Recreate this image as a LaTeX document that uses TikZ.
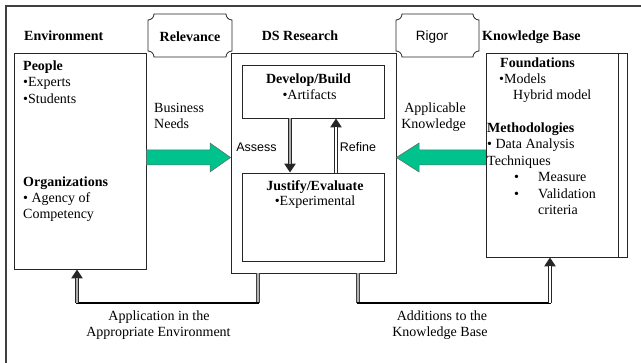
\documentclass[tikz,border=0pt]{standalone}
\usepackage{fontspec}
\setmainfont{Liberation Serif}
\newfontfamily\arialf{Liberation Sans}
\usetikzlibrary{arrows.meta}
\definecolor{arrowgreen}{RGB}{0,194,140}
\tikzset{
  box/.style={draw=black!85, line width=0.8pt, fill=white, inner sep=0pt},
  txt/.style={inner sep=0pt, text height=11pt, text depth=2pt, font=\fontsize{14}{16}\selectfont},
  btxt/.style={txt, font=\fontsize{14}{16}\selectfont\bfseries},
  stxt/.style={inner sep=0pt, text height=10pt, text depth=2pt, font=\fontsize{12.5}{15}\selectfont\arialf},
  dblline/.style={draw=black!75, line width=3.4pt, postaction={draw=#1, line width=1.6pt}},
  dblarrow/.style={draw=black!85, line width=4pt, -{Triangle[width=11pt,length=9pt]},
    postaction={draw=#1, line width=2pt, -, shorten >=9pt}},
  hline/.style={draw=black, line width=2pt},
  plaque/.style={draw=black!85, line width=0.8pt, fill=white},
  garrow/.style={draw=black!60, line width=0.5pt, fill=arrowgreen}
}
\begin{document}
\begin{tikzpicture}[x=1pt,y=1pt]
\useasboundingbox (0,0) rectangle (641,-363);
% outer frame (cropped)
\draw[draw=black!75, line width=1.3pt] (641,-6) -- (6,-6) -- (6,-363);

% headings
\node[btxt, anchor=west] (envh) at (24,-36) {Environment};
\node[btxt] (dsh) at (300,-36) {DS Research};
\node[btxt, anchor=west] (kbh) at (482,-36) {Knowledge Base};

% plaques
\draw[plaque] (154,-14) -- (226,-14) .. controls (226,-17.3) and (228.7,-20) .. (232,-20)
  -- (232,-51) .. controls (228.7,-51) and (226,-53.7) .. (226,-57)
  -- (154,-57) .. controls (154,-53.7) and (151.3,-51) .. (148,-51)
  -- (148,-20) .. controls (151.3,-20) and (154,-17.3) .. (154,-14) -- cycle;
\node[btxt] (relev) at (190,-37) {Relevance};
\draw[plaque] (402,-14) -- (473,-14) .. controls (473,-17.3) and (475.7,-20) .. (479,-20)
  -- (479,-51) .. controls (475.7,-51) and (473,-53.7) .. (473,-57)
  -- (402,-57) .. controls (402,-53.7) and (399.3,-51) .. (396,-51)
  -- (396,-20) .. controls (399.3,-20) and (402,-17.3) .. (402,-14) -- cycle;
\node[stxt, font=\fontsize{13.5}{16}\selectfont\arialf] (rigor) at (432,-37) {Rigor};

% boxes
\node[box, minimum width=132pt, minimum height=216pt] (env) at (80,-161) {};
\node[box, minimum width=165pt, minimum height=220pt] (ds) at (313.5,-163) {};
\node[box, minimum width=142pt, minimum height=53pt] (dev) at (313,-91.5) {};
\node[box, minimum width=142pt, minimum height=88pt] (jus) at (313,-217) {};
\node[box, minimum width=141pt, minimum height=204pt] (kb) at (556.5,-155) {};
\draw[draw=black!85, line width=0.8pt] (kb.north east) ++(-9,0) coordinate (kbi) -- (kbi |- kb.south);

% environment texts
\node[btxt, anchor=west] (people) at (23,-66) {People};
\node[txt, anchor=west] (experts) at (23,-82.5) {\textbullet Experts};
\node[txt, anchor=west] (students) at (23,-99) {\textbullet Students};
\node[btxt, anchor=west] (orgs) at (23,-182) {Organizations};
\node[txt, anchor=west] (agency) at (23,-198) {\textbullet{} Agency of};
\node[txt, anchor=west] (compet) at (23,-214) {Competency};

% DS texts
\node[btxt] (devt) at (308.5,-79) {Develop/Build};
\node[txt] (artif) at (309.5,-95) {\textbullet Artifacts};
\node[btxt] (just) at (315,-186) {Justify/Evaluate};
\node[txt] (exper) at (315,-201) {\textbullet Experimental};
\node[stxt] (assess) at (256.5,-148) {Assess};
\node[stxt] (refine) at (358,-148) {Refine};

% KB texts
\node[btxt, anchor=west] (found) at (500,-63) {Foundations};
\node[txt, anchor=west] (models) at (499,-79) {\textbullet Models};
\node[txt, anchor=west] (hybrid) at (513,-95) {Hybrid model};
\node[btxt, anchor=west] (meth) at (487,-128) {Methodologies};
\node[txt, anchor=west] (data) at (487,-144) {\textbullet{} Data Analysis};
\node[txt, anchor=west] (tech) at (487,-161) {Techniques};
\node[txt, anchor=west] (b1) at (514,-177) {\textbullet};
\node[txt, anchor=west] (measure) at (538,-177) {Measure};
\node[txt, anchor=west] (b2) at (514,-194) {\textbullet};
\node[txt, anchor=west] (valid) at (538,-194) {Validation};
\node[txt, anchor=west] (crit) at (538,-210) {criteria};

% side labels
\node[txt, anchor=west] (bus1) at (154,-108) {Business};
\node[txt, anchor=west] (bus2) at (154,-124) {Needs};
\node[txt, anchor=east] (app1) at (466,-108) {Applicable};
\node[txt, anchor=east] (app2) at (466,-124) {Knowledge};

% green block arrows
\draw[garrow] (env.east |- 0,-150) -- (210,-150) -- (210,-143) -- (ds.west |- 0,-157.5)
  -- (210,-172) -- (210,-165) -- (env.east |- 0,-165) -- cycle;
\draw[garrow] (kb.west |- 0,-150) -- (419,-150) -- (419,-143) -- (ds.east |- 0,-157.5)
  -- (419,-172) -- (419,-165) -- (kb.west |- 0,-165) -- cycle;

% assess / refine
\draw[dblarrow=gray!65] ([xshift=-23pt]dev.south) -- ([xshift=-23pt]jus.north);
\draw[dblarrow=white] ([xshift=23pt]jus.north) -- ([xshift=23pt]dev.south);

% bottom connectors
\coordinate (l1) at ([xshift=-55.5pt]ds.south |- 0,-303);
\coordinate (l2) at ([xshift=-3pt]env.south |- 0,-303);
\draw[dblline=gray!60] ([xshift=-55.5pt]ds.south) -- (l1);
\draw[hline] ([xshift=1pt]l1) -- ([xshift=-1pt]l2);
\draw[dblarrow=gray!65] (l2) -- ([xshift=-3pt]env.south);

\coordinate (r1) at ([xshift=44.5pt]ds.south |- 0,-303);
\coordinate (r2) at ([xshift=-6.5pt]kb.south |- 0,-303);
\draw[dblline=gray!60] ([xshift=44.5pt]ds.south) -- (r1);
\draw[hline] ([xshift=-1pt]r1) -- ([xshift=1pt]r2);
\draw[dblarrow=white] (r2) -- ([xshift=-6.5pt]kb.south);

\node[txt] (apl1) at (159,-316) {Application in the};
\node[txt] (apl2) at (158.5,-332) {Appropriate Environment};
\node[txt] (add1) at (442,-316) {Additions to the};
\node[txt] (add2) at (440,-332) {Knowledge Base};
\end{tikzpicture}
\end{document}
